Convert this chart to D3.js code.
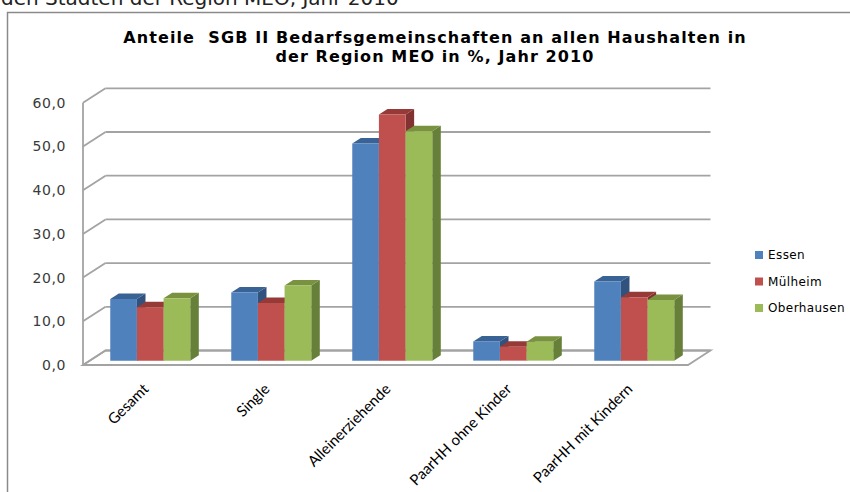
<!DOCTYPE html>
<html>
<head>
<meta charset="utf-8">
<script src="https://cdn.jsdelivr.net/npm/d3@7"></script>
<style>
  html, body { margin: 0; padding: 0; background: #fff; overflow: hidden; }
  svg { display: block; }
</style>
</head>
<body>
<div id="chart"></div>
<script>
const categories = ["Gesamt", "Single", "Alleinerziehende", "PaarHH ohne Kinder", "PaarHH mit Kindern"];
const seriesNames = ["Essen", "Mülheim", "Oberhausen"];
const essen = [14.1, 15.6, 49.7, 4.4, 18.1];
const muelheim = [12.2, 13.2, 56.3, 3.2, 14.5];
const oberhausen = [14.3, 17.2, 52.5, 4.3, 13.9];
const yTicks = [0, 10, 20, 30, 40, 50, 60];
const titleLines = ["Anteile  SGB II Bedarfsgemeinschaften an allen Haushalten in", "der Region MEO in %, Jahr 2010"];
const pageText = "den Städten der Region MEO, Jahr 2010";

const seriesValues = [essen, muelheim, oberhausen];
const fronts = ["#4f81bd", "#c0504d", "#9bbb59"];
const tops = ["#3a6395", "#963a38", "#78923f"];
const sides = ["#30527c", "#823230", "#66803a"];

const width = 850, height = 492;
const DX = 22.5, DY = -14.5;   // depth offset of the 3d box
const z0 = 0.3, z1 = 0.68;     // bar depth range

const svg = d3.select("#chart").append("svg")
    .attr("width", width)
    .attr("height", height);

// text of the page above the chart, cut off
svg.append("text")
    .attr("x", 1).attr("y", 5)
    .style("font-family", "DejaVu Sans")
    .style("font-size", "20px")
    .attr("fill", "#222")
    .text(pageText);

// chart frame
svg.append("rect")
    .attr("x", 7.5).attr("y", 12.5)
    .attr("width", 900).attr("height", 600)
    .attr("fill", "none")
    .attr("stroke", "#8a8a8a")
    .attr("stroke-width", 1.5);

const x = d3.scaleBand().domain(categories).range([83, 688])
    .paddingInner(0.339).paddingOuter(0.1695);
const xs = d3.scaleBand().domain(seriesNames).range([0, x.bandwidth()]);
const y = d3.scaleLinear().domain([0, 60]).range([365, 102.8]);

const proj = (px, v, z) => [px + z * DX, y(v) + z * DY];
const poly = pts => "M" + pts.map(p => p.join(",")).join("L") + "Z";

// title
svg.append("g").selectAll("text")
    .data(titleLines)
    .join("text")
    .attr("x", 435)
    .attr("y", (d, i) => 43 + i * 19)
    .attr("text-anchor", "middle")
    .style("white-space", "pre")
    .style("font-family", "DejaVu Sans")
    .style("font-weight", "bold")
    .style("font-size", "16px")
    .style("letter-spacing", "1.1px")
    .attr("fill", "#000")
    .text(d => d);

const [x0, x1] = x.range();
const grid = svg.append("g")
    .attr("stroke", "#a3a3a3")
    .attr("stroke-width", 1.8)
    .attr("fill", "none");

// back wall gridlines
grid.selectAll("line.back")
    .data(yTicks)
    .join("line")
    .attr("class", "back")
    .attr("x1", d => proj(x0, d, 1)[0])
    .attr("y1", d => proj(x0, d, 1)[1])
    .attr("x2", d => proj(x1, d, 1)[0])
    .attr("y2", d => proj(x1, d, 1)[1]);

// side wall gridlines
grid.selectAll("line.side")
    .data(yTicks)
    .join("line")
    .attr("class", "side")
    .attr("x1", d => proj(x0, d, 0)[0])
    .attr("y1", d => proj(x0, d, 0)[1])
    .attr("x2", d => proj(x0, d, 1)[0])
    .attr("y2", d => proj(x0, d, 1)[1]);

// side wall front edge
grid.append("line")
    .attr("x1", x0).attr("y1", y(0))
    .attr("x2", x0).attr("y2", y(60));

// floor
grid.append("path")
    .attr("d", poly([proj(x0, 0, 0), proj(x1, 0, 0), proj(x1, 0, 1), proj(x0, 0, 1)]));

// y axis labels
svg.append("g").selectAll("text")
    .data(yTicks)
    .join("text")
    .attr("x", 66)
    .attr("y", d => y(d))
    .attr("dy", "0.35em")
    .attr("text-anchor", "end")
    .style("font-family", "DejaVu Sans")
    .style("font-size", "14px")
    .style("letter-spacing", "0.6px")
    .attr("fill", "#3a3a3a")
    .text(d => d3.format(".1f")(d).replace(".", ","));

// bars
const bars = [];
categories.forEach((c, ci) => {
    seriesNames.forEach((s, si) => {
        bars.push({cat: c, s: si, v: seriesValues[si][ci]});
    });
});

const bar = svg.append("g").selectAll("g")
    .data(bars)
    .join("g");

bar.append("path") // side
    .attr("fill", d => sides[d.s])
    .attr("d", d => {
        const r = x(d.cat) + xs(seriesNames[d.s]) + xs.bandwidth();
        return poly([proj(r, 0, z0), proj(r, 0, z1), proj(r, d.v, z1), proj(r, d.v, z0)]);
    });
bar.append("path") // top
    .attr("fill", d => tops[d.s])
    .attr("d", d => {
        const l = x(d.cat) + xs(seriesNames[d.s]);
        const r = l + xs.bandwidth();
        return poly([proj(l, d.v, z0), proj(r, d.v, z0), proj(r, d.v, z1), proj(l, d.v, z1)]);
    });
bar.append("path") // front
    .attr("fill", d => fronts[d.s])
    .attr("d", d => {
        const l = x(d.cat) + xs(seriesNames[d.s]);
        const r = l + xs.bandwidth();
        return poly([proj(l, 0, z0), proj(r, 0, z0), proj(r, d.v, z0), proj(l, d.v, z0)]);
    });

// category labels
svg.append("g").selectAll("text")
    .data(categories)
    .join("text")
    .attr("transform", d => `translate(${x(d) + x.bandwidth() / 2 + 6},${390}) rotate(-45)`)
    .attr("text-anchor", "end")
    .style("font-family", "Lato")
    .style("font-size", "15px")
    .attr("fill", "#000")
    .text(d => d);

// legend
const legend = svg.append("g").selectAll("g")
    .data(seriesNames)
    .join("g")
    .attr("transform", (d, i) => `translate(755,${255 + i * 26.5})`);
legend.append("rect")
    .attr("x", 0).attr("y", -4)
    .attr("width", 8).attr("height", 8)
    .attr("fill", (d, i) => fronts[i]);
legend.append("text")
    .attr("x", 13)
    .attr("dy", "0.35em")
    .style("font-family", "DejaVu Sans")
    .style("font-size", "12px")
    .style("letter-spacing", "0.4px")
    .attr("fill", "#000")
    .text(d => d);
</script>
</body>
</html>
